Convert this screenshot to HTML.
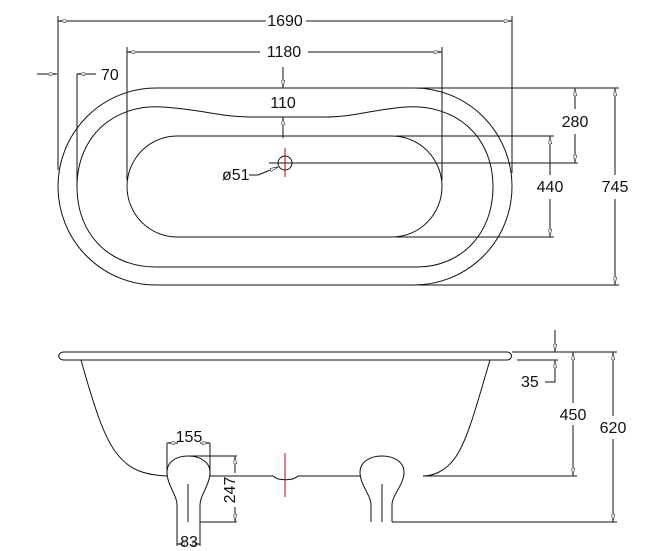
<!DOCTYPE html>
<html><head><style>
body{margin:0;background:#fff}
svg{display:block}
text{font-family:"Liberation Sans",sans-serif;font-size:16px;fill:#111}
</style></head><body>
<svg width="650" height="551" viewBox="0 0 650 551" xmlns="http://www.w3.org/2000/svg">
<defs>
<marker id="a" viewBox="0 0 10 4" refX="10" refY="2" markerWidth="8" markerHeight="3.5" orient="auto-start-reverse" markerUnits="userSpaceOnUse">
<path d="M0,0 L10,2 L0,4 Z" fill="#fff" stroke="#222" stroke-width="0.8"/>
</marker>
</defs>
<g fill="none" stroke="#111" stroke-width="1">
<rect x="58" y="88" width="454" height="197" rx="98" ry="98.5"/>
<path d="M77,187 C77,135 115,104 162,107 C200,109 220,117 250,117 L325,117 C355,117 375,109 406,107 C455,104 493,135 493,187 C493,235 460,267 417,267 L156,267 C110,267 77,235 77,187 Z"/>
<rect x="127" y="136" width="315" height="101" rx="50" ry="50.5"/>
<circle cx="285" cy="163" r="7"/>
<line x1="58" y1="16" x2="58" y2="170"/>
<line x1="512" y1="16" x2="512" y2="173"/>
<line x1="127" y1="47" x2="127" y2="180"/>
<line x1="442" y1="47" x2="442" y2="180"/>
<line x1="77" y1="74" x2="77" y2="187"/>
<line x1="417" y1="88" x2="619" y2="88"/>
<line x1="396" y1="136" x2="554" y2="136"/>
<line x1="269" y1="163" x2="578" y2="163"/>
<line x1="396" y1="237" x2="554" y2="237"/>
<line x1="417" y1="285" x2="619" y2="285"/>
<line x1="58" y1="21" x2="266" y2="21" marker-start="url(#a)"/>
<line x1="306" y1="21" x2="512" y2="21" marker-end="url(#a)"/>
<line x1="127" y1="52" x2="260" y2="52" marker-start="url(#a)"/>
<line x1="308" y1="52" x2="442" y2="52" marker-end="url(#a)"/>
<line x1="37" y1="74" x2="57" y2="74" marker-end="url(#a)"/>
<line x1="96" y1="74" x2="77" y2="74" marker-end="url(#a)"/>
<line x1="283" y1="67" x2="283" y2="88" marker-end="url(#a)"/>
<line x1="283" y1="138" x2="283" y2="117" marker-end="url(#a)"/>
<line x1="575" y1="88" x2="575" y2="109" marker-start="url(#a)"/>
<line x1="575" y1="134" x2="575" y2="163" marker-end="url(#a)"/>
<line x1="550" y1="136" x2="550" y2="175" marker-start="url(#a)"/>
<line x1="550" y1="199" x2="550" y2="237" marker-end="url(#a)"/>
<line x1="615" y1="88" x2="615" y2="175" marker-start="url(#a)"/>
<line x1="615" y1="199" x2="615" y2="285" marker-end="url(#a)"/>
<path d="M249,175 L258,175 L278,167" marker-end="url(#a)"/>
</g>
<line x1="285" y1="148" x2="285" y2="177" stroke="#b00" stroke-width="1"/>
<text x="285" y="26" text-anchor="middle">1690</text>
<text x="284" y="57" text-anchor="middle">1180</text>
<text x="101" y="80">70</text>
<text x="283" y="108" text-anchor="middle">110</text>
<text x="575" y="127" text-anchor="middle">280</text>
<text x="550" y="192" text-anchor="middle">440</text>
<text x="615" y="192" text-anchor="middle">745</text>
<text x="222" y="180">ø51</text>

<g fill="none" stroke="#111" stroke-width="1">
<path d="M64,352 L507,352 C513,352 513,360 507,360 L64,360 C57,360 57,352 64,352 Z"/>
<path d="M81,360 C95,410 105,440 118,455 C130,470 145,475 167,476"/>
<path d="M490,360 C478,400 468,440 455,458 C445,472 432,476 423,476"/>
<path d="M210,476 L273,476 C278,481 293,481 298,476 L360,476"/>
<path d="M177,522 L177,505 C177,495 167,485 167,472 C167,462 176,456 188,456 C200,456 210,462 210,472 C210,485 200,495 200,505 L200,522"/>
<path d="M371,522 L371,505 C371,495 360,485 360,472 C360,462 370,456 382,456 C394,456 404,462 404,472 C404,485 392,495 392,505 L392,522"/>
<line x1="188" y1="484" x2="188" y2="522"/>
<line x1="382" y1="484" x2="382" y2="522"/>
<line x1="167" y1="443" x2="167" y2="476"/>
<line x1="210" y1="443" x2="210" y2="476"/>
<line x1="167" y1="443" x2="178" y2="443" marker-start="url(#a)"/>
<line x1="200" y1="443" x2="210" y2="443" marker-end="url(#a)"/>
<line x1="188" y1="456" x2="237" y2="456"/>
<line x1="200" y1="522" x2="237" y2="522"/>
<line x1="235" y1="456" x2="235" y2="473" marker-start="url(#a)"/>
<line x1="235" y1="507" x2="235" y2="522" marker-end="url(#a)"/>
<line x1="177" y1="522" x2="177" y2="546"/>
<line x1="200" y1="522" x2="200" y2="546"/>
<line x1="177" y1="544" x2="182" y2="544" marker-start="url(#a)"/>
<line x1="195" y1="544" x2="200" y2="544" marker-end="url(#a)"/>
<line x1="512" y1="352" x2="617" y2="352"/>
<line x1="517" y1="360" x2="558" y2="360"/>
<line x1="423" y1="476" x2="577" y2="476"/>
<line x1="392" y1="522" x2="617" y2="522"/>
<line x1="555" y1="330" x2="555" y2="352" marker-end="url(#a)"/>
<path d="M545,382 L555,382 L555,360" marker-end="url(#a)"/>
<line x1="573" y1="352" x2="573" y2="403" marker-start="url(#a)"/>
<line x1="573" y1="425" x2="573" y2="476" marker-end="url(#a)"/>
<line x1="613" y1="352" x2="613" y2="416" marker-start="url(#a)"/>
<line x1="613" y1="439" x2="613" y2="522" marker-end="url(#a)"/>
</g>
<line x1="285" y1="453" x2="285" y2="497" stroke="#b00" stroke-width="1"/>
<text x="189" y="442" text-anchor="middle">155</text>
<text transform="translate(235,490) rotate(-90)" text-anchor="middle">247</text>
<text x="189" y="547" text-anchor="middle">83</text>
<text x="521" y="387">35</text>
<text x="573" y="420" text-anchor="middle">450</text>
<text x="613" y="433" text-anchor="middle">620</text>
</svg>
</body></html>
